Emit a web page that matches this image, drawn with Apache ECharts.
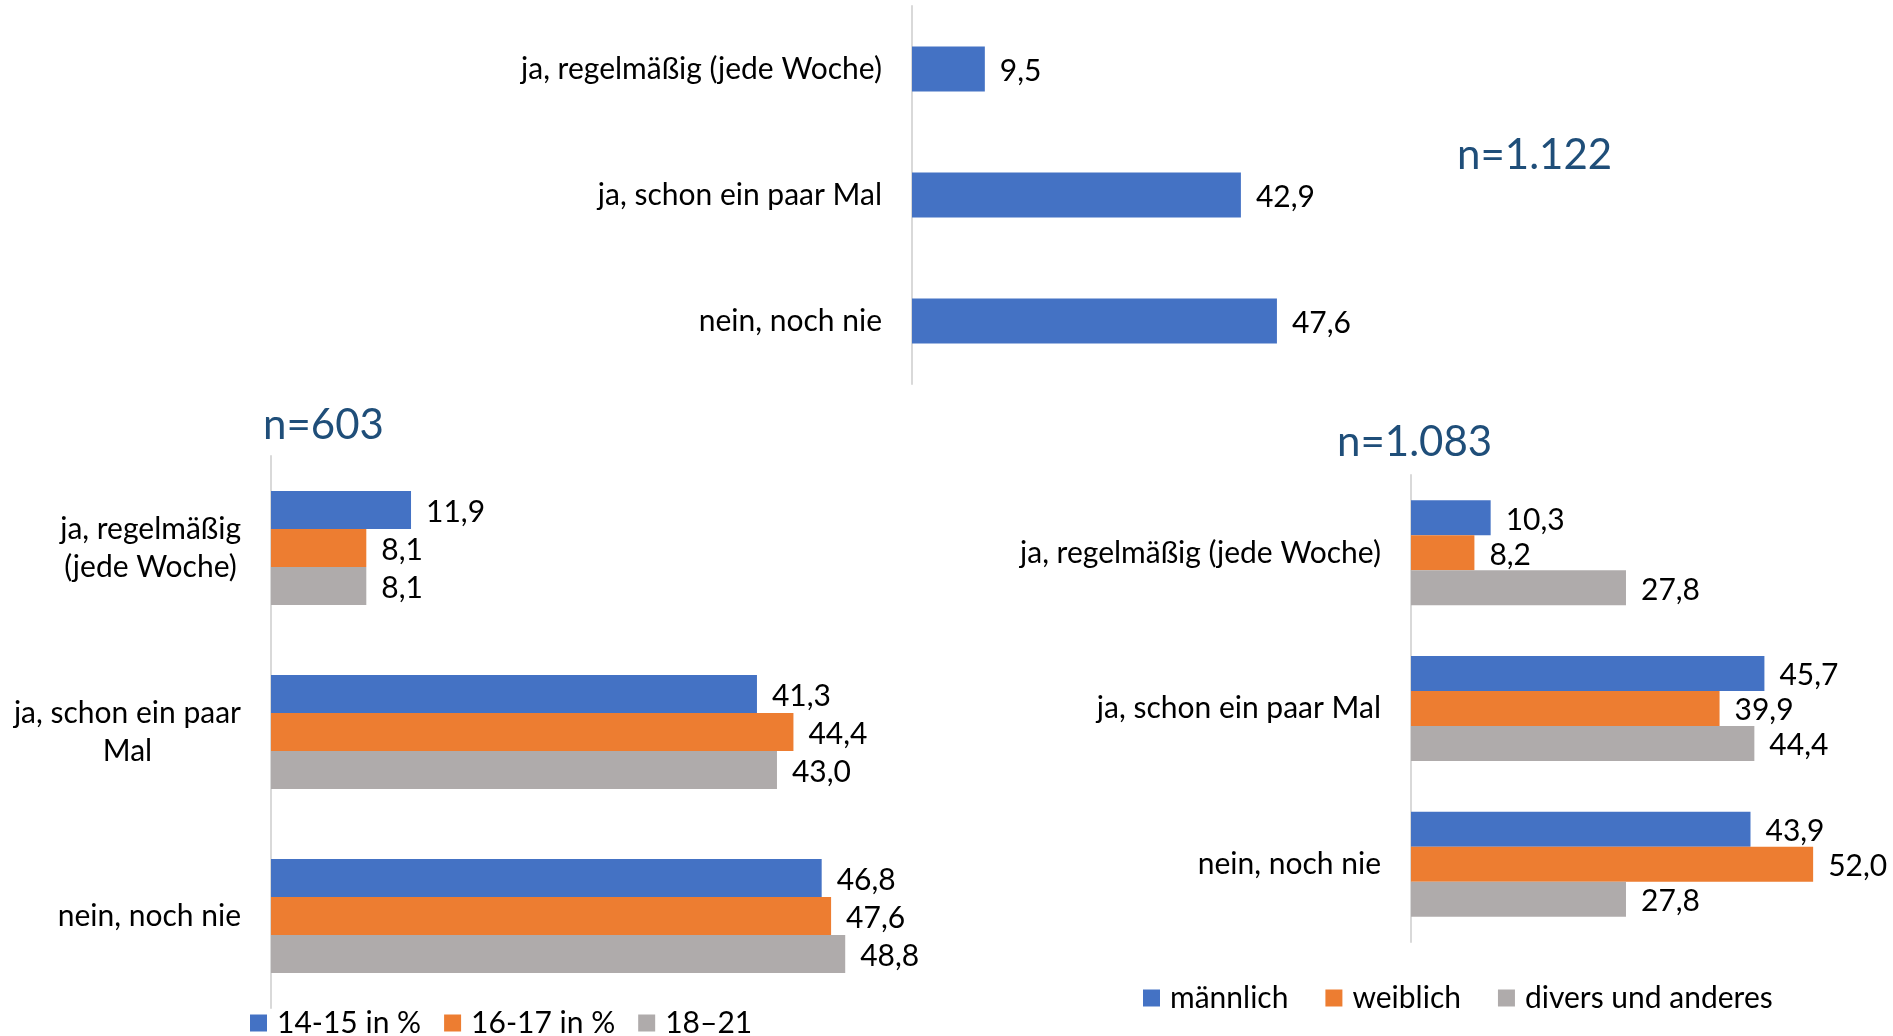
<!DOCTYPE html>
<html>
<head>
<meta charset="utf-8">
<script src="https://cdn.jsdelivr.net/npm/echarts@6/dist/echarts.min.js"></script>
<style>
  html, body { margin: 0; padding: 0; background: #fff; }
  #chart { width: 1893px; height: 1036px; }
</style>
</head>
<body>
<div id="chart"></div>
<script>
// Kategorien
var catsTotal = ['ja, regelmäßig (jede Woche)', 'ja, schon ein paar Mal', 'nein, noch nie']
var catsAge = ['ja, regelmäßig\n(jede Woche)', 'ja, schon ein paar\nMal', 'nein, noch nie']
var catsGender = ['ja, regelmäßig (jede Woche)', 'ja, schon ein paar Mal', 'nein, noch nie']

// gesamt, n=1.122
var valsTotal = [9.5, 42.9, 47.6]

// Alter, n=603
var ageNames = ['14-15 in %', '16-17 in %', '18–21']
var age1415 = [11.9, 41.3, 46.8]
var age1617 = [8.1, 44.4, 47.6]
var age1821 = [8.1, 43.0, 48.8]

// Geschlecht, n=1.083
var genderNames = ['männlich', 'weiblich', 'divers und anderes']
var male = [10.3, 45.7, 43.9]
var female = [8.2, 39.9, 52.0]
var diverse = [27.8, 44.4, 27.8]

var titles = ['n=1.122', 'n=603', 'n=1.083']

var BLUE = '#4472C4'
var ORANGE = '#ED7D31'
var GRAY = '#AFABAB'
var FONT = 'Lato'
var FS = 30

function fmt(p) {
  return p.value.toFixed(1).replace('.', ',')
}

function valueLabel() {
  return {
    show: true,
    position: 'right',
    distance: 15,
    offset: [0, 2],
    formatter: fmt,
    color: '#000',
    fontFamily: FONT,
    fontSize: FS
  }
}

function catAxis(idx, cats, rich) {
  var ax = {
    type: 'category',
    gridIndex: idx,
    data: cats,
    inverse: true,
    axisLine: { show: true, lineStyle: { color: '#D9D9D9', width: 2 } },
    axisTick: { show: false },
    splitLine: { show: false },
    axisLabel: {
      interval: 0,
      margin: 30,
      align: 'right',
      color: '#000',
      fontFamily: FONT,
      fontSize: FS,
      lineHeight: 38
    }
  }
  if (rich) {
    // Zeilen zentriert, Block rechtsbündig (wie Excel)
    ax.axisLabel.formatter = function(v) {
      return v.split('\n').map(function(s) { return '{c|' + s + '}' }).join('\n')
    }
    ax.axisLabel.rich = {
      c: { align: 'center', color: '#000', fontFamily: FONT, fontSize: FS, lineHeight: 38 }
    }
  }
  return ax
}

function valAxis(idx) {
  return {
    type: 'value',
    gridIndex: idx,
    min: 0,
    max: 60,
    show: false
  }
}

function barSeries(name, data, color, idx, width) {
  return {
    name: name,
    type: 'bar',
    xAxisIndex: idx,
    yAxisIndex: idx,
    data: data,
    barWidth: width,
    barGap: '0%',
    itemStyle: { color: color },
    label: valueLabel()
  }
}

function legend(names, left, top, gap) {
  return {
    data: names,
    left: left,
    top: top,
    padding: 0,
    itemWidth: 17,
    itemHeight: 17,
    itemGap: gap,
    icon: 'rect',
    textStyle: {
      color: '#000',
      fontFamily: FONT,
      fontSize: FS,
      lineHeight: 34,
      padding: [0, 0, 0, 5]
    }
  }
}

function titleText(text, x, y) {
  return {
    type: 'text',
    left: x,
    top: y,
    style: {
      text: text,
      fill: '#1F4E79',
      font: '42px Lato'
    }
  }
}

var chart = echarts.init(document.getElementById('chart'))
var option = {
  backgroundColor: '#fff',
  animation: false,
  grid: [
    { left: 912, top: 6, width: 460, height: 378 },
    { left: 271, top: 456, width: 706, height: 552 },
    { left: 1411, top: 475, width: 464, height: 467 }
  ],
  xAxis: [valAxis(0), valAxis(1), valAxis(2)],
  yAxis: [
    catAxis(0, catsTotal, false),
    catAxis(1, catsAge, true),
    catAxis(2, catsGender, false)
  ],
  legend: [
    legend(ageNames, 250, 1006, 23),
    legend(genderNames, 1143, 981, 37)
  ],
  graphic: [
    titleText(titles[0], 1457, 134),
    titleText(titles[1], 263, 404),
    titleText(titles[2], 1337, 421)
  ],
  series: [
    barSeries('gesamt', valsTotal, BLUE, 0, 45),
    barSeries(ageNames[0], age1415, BLUE, 1, 38),
    barSeries(ageNames[1], age1617, ORANGE, 1, 38),
    barSeries(ageNames[2], age1821, GRAY, 1, 38),
    barSeries(genderNames[0], male, BLUE, 2, 35),
    barSeries(genderNames[1], female, ORANGE, 2, 35),
    barSeries(genderNames[2], diverse, GRAY, 2, 35)
  ]
}
chart.setOption(option)
</script>
</body>
</html>
